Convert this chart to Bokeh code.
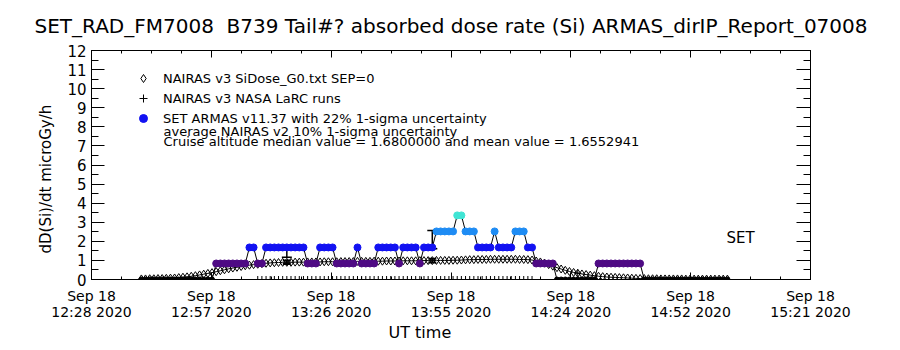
import numpy as np
from bokeh.plotting import figure
from bokeh.models import (ColumnDataSource, Range1d, FixedTicker, LinearAxis, Label,
                          Legend, LegendItem, Whisker, TeeHead, Title, CustomLabelingPolicy)
from bokeh.embed import file_html
from bokeh.resources import INLINE

FONT = "DejaVu Sans"

title_text = "SET_RAD_FM7008 \u00a0B739 Tail#? absorbed dose rate (Si) ARMAS_dirIP_Report_07008"
y_title = "dD(Si)/dt microGy/h"
x_title = "UT time"
x_tick_labels = ["Sep 18\n12:28 2020", "Sep 18\n12:57 2020", "Sep 18\n13:26 2020",
                 "Sep 18\n13:55 2020", "Sep 18\n14:24 2020", "Sep 18\n14:52 2020",
                 "Sep 18\n15:21 2020"]
x_span_minutes = 173          # 12:28 -> 15:21 UT
y_max = 12

# sample times: minutes after 12:28 UT (1-minute cadence)
minutes = list(range(12, 154))

# SET ARMAS absorbed dose rate (microGy/h)
armas = ([0.0] * 18 + [0.84] * 8 + [1.68] * 2 + [0.84] * 2 + [1.68] * 10 + [0.84] * 3 +
         [1.68] * 4 + [0.84] * 5 + [1.68] + [0.84] * 4 + [1.68] * 5 + [0.84] + [1.68] * 4 +
         [0.84] + [1.68] * 3 + [2.52] * 5 + [3.36] * 2 + [2.52] * 3 + [1.68] * 4 + [2.52] +
         [1.68] * 4 + [2.52] * 3 + [1.68] * 2 + [0.84] * 5 + [0.0] * 10 + [0.84] * 11 +
         [0.0] * 21)

# NAIRAS v3 SiDose (microGy/h)
nairas = [0.03, 0.03, 0.04, 0.04, 0.05, 0.05, 0.06, 0.07, 0.08,
          0.10, 0.12, 0.14, 0.17, 0.20, 0.24, 0.28, 0.32, 0.36,
          0.41, 0.46, 0.51, 0.56, 0.60, 0.64, 0.68, 0.72,
          0.75, 0.78, 0.80, 0.83, 0.85, 0.87, 0.88, 0.89,
          0.90, 0.90, 0.90, 0.91, 0.91, 0.91, 0.92, 0.92, 0.92, 0.92, 0.93, 0.93,
          0.93, 0.93, 0.94, 0.94, 0.94, 0.94, 0.95, 0.95, 0.95, 0.95, 0.96, 0.96,
          0.96, 0.97, 0.97, 0.97, 0.97, 0.98, 0.98, 0.98, 0.98, 0.99, 0.99, 0.99,
          0.99, 1.00, 1.00, 1.00, 1.00, 1.01, 1.01, 1.02,
          1.03, 1.04, 1.04, 1.05, 1.05, 1.05, 1.06, 1.06, 1.06, 1.06, 1.06, 1.06,
          1.06, 1.05, 1.05, 1.04, 1.02,
          0.97, 0.92, 0.86, 0.78, 0.70, 0.62, 0.55, 0.48, 0.42, 0.37, 0.33, 0.29,
          0.26, 0.23, 0.20,
          0.17, 0.15, 0.13, 0.12, 0.11, 0.10, 0.09, 0.08, 0.07, 0.06, 0.05,
          0.05, 0.04, 0.04, 0.04, 0.03, 0.03, 0.03, 0.03, 0.03, 0.03, 0.02, 0.02,
          0.02, 0.02, 0.02, 0.02, 0.02, 0.02, 0.02, 0.02, 0.02]

# NAIRAS v3 NASA LaRC runs (minutes after 12:28 UT, microGy/h); 0 = no run value
larc_minutes = list(range(40, 107)) + [117]
larc_values = [0.0] * 67 + [0.33]

# uncertainty bars (ARMAS 22 %, NAIRAS 10 %)
err_minutes = [47, 82]
armas_err_lo = [1.17, 1.61]
armas_err_hi = [1.69, 2.57]
nairas_err_lo = [0.81, 0.89]
nairas_err_hi = [0.99, 1.09]

level_colors = {0.0: "#000000", 0.84: "#4e0a84", 1.68: "#1212f2",
                2.52: "#1e8cf4", 3.36: "#40e4d4"}

legend_labels = ["NAIRAS v3 SiDose_G0.txt SEP=0", "NAIRAS v3 NASA LaRC runs",
                 "SET ARMAS v11.37 with 22% 1-sigma uncertainty"]
note1 = "average NAIRAS v2 10% 1-sigma uncertainty"
note2 = "Cruise altitude median value = 1.6800000 and mean value = 1.6552941"
set_label = "SET"

# ---------------------------------------------------------------------------
L, R, T, B = 91, 90, 50, 71
p = figure(width=900, height=350, output_backend="svg", toolbar_location=None,
           x_range=Range1d(0, x_span_minutes), y_range=Range1d(0, y_max),
           min_border_left=L, min_border_right=R, min_border_top=T, min_border_bottom=B,
           x_axis_location=None, y_axis_location=None, title=None)
p.grid.visible = False
p.outline_line_color = "black"
p.outline_line_width = 1
p.background_fill_color = "white"
p.border_fill_color = "white"

major_x = list(np.linspace(0, x_span_minutes, len(x_tick_labels)))
minor_x = list(np.linspace(0, x_span_minutes, 4 * (len(x_tick_labels) - 1) + 1))
yticks = list(range(0, y_max + 1))
yminor = list(np.arange(0, y_max + 0.01, 0.5))


def style_axis(ax, labels=True):
    ax.axis_line_color = "black"
    ax.major_tick_line_color = "black"
    ax.minor_tick_line_color = "black"
    ax.major_label_text_font = FONT
    ax.major_label_text_color = "black"
    if not labels:
        ax.major_label_policy = CustomLabelingPolicy(code="return []")
        ax.major_label_standoff = 0


xb = LinearAxis(ticker=FixedTicker(ticks=major_x, minor_ticks=minor_x))
xb.major_label_overrides = {float(t): lab for t, lab in zip(major_x, x_tick_labels)}
style_axis(xb)
xb.major_tick_in, xb.major_tick_out = 7, 0
xb.minor_tick_in, xb.minor_tick_out = 3, 0
xb.major_label_text_font_size = "14px"
xb.major_label_text_line_height = 1.0
xb.major_label_standoff = 8
p.add_layout(xb, "below")

xt = LinearAxis(ticker=FixedTicker(ticks=major_x, minor_ticks=minor_x))
style_axis(xt, labels=False)
xt.major_tick_in, xt.major_tick_out = 7, 0
xt.minor_tick_in, xt.minor_tick_out = 3, 0
p.add_layout(xt, "above")

yl = LinearAxis(ticker=FixedTicker(ticks=yticks, minor_ticks=yminor))
style_axis(yl)
yl.major_tick_in, yl.major_tick_out = 13, 0
yl.minor_tick_in, yl.minor_tick_out = 7, 0
yl.major_label_text_font_size = "15px"
yl.major_label_standoff = 5
p.add_layout(yl, "left")

yr = LinearAxis(ticker=FixedTicker(ticks=yticks, minor_ticks=yminor))
style_axis(yr, labels=False)
yr.major_tick_in, yr.major_tick_out = 14, 0
yr.minor_tick_in, yr.minor_tick_out = 7, 0
p.add_layout(yr, "right")

# titles
p.add_layout(Title(text=title_text, align="center", text_font=FONT, text_font_size="20px",
                   text_font_style="normal", text_color="black", standoff=4), "above")
p.add_layout(Title(text=x_title, align="left", offset=297, text_font=FONT,
                   text_font_size="16px", text_font_style="normal", text_color="black",
                   standoff=-3), "below")
p.add_layout(Title(text=y_title, align="left", offset=26, text_font=FONT,
                   text_font_size="15px", text_font_style="normal", text_color="black",
                   standoff=19), "left")

# --- data -----------------------------------------------------------------
nsrc = ColumnDataSource(dict(t=minutes, v=nairas))
p.line("t", "v", source=nsrc, line_color="black", line_width=1)
nr = p.scatter("t", "v", source=nsrc, marker="diamond", size=8,
               fill_color=None, line_color="black", line_width=1)

lsrc = ColumnDataSource(dict(t=larc_minutes, v=larc_values))
lr = p.scatter("t", "v", source=lsrc, marker="cross", size=7, line_color="black",
               line_width=1)

asrc = ColumnDataSource(dict(t=minutes, v=armas, c=[level_colors[v] for v in armas],
                             s=[5 if v == 0 else 7 for v in armas]))
p.line("t", "v", source=asrc, line_color="black", line_width=1)
ar = p.scatter("t", "v", source=asrc, marker="circle", size="s", fill_color="c",
               line_color="c")

esrc = ColumnDataSource(dict(t=err_minutes, alo=armas_err_lo, ahi=armas_err_hi,
                             nlo=nairas_err_lo, nhi=nairas_err_hi))
for lo, hi, w, lw in (("alo", "ahi", 10, 1.5), ("nlo", "nhi", 8, 2)):
    p.add_layout(Whisker(source=esrc, base="t", lower=lo, upper=hi, dimension="height",
                         line_color="black", line_width=lw,
                         lower_head=TeeHead(size=w, line_color="black", line_width=lw),
                         upper_head=TeeHead(size=w, line_color="black", line_width=lw)))

# --- legend ---------------------------------------------------------------
blue_index = armas.index(1.68)
legend = Legend(items=[LegendItem(label=legend_labels[0], renderers=[nr]),
                       LegendItem(label=legend_labels[1], renderers=[lr]),
                       LegendItem(label=legend_labels[2], renderers=[ar], index=blue_index)],
                location=(42, 151), border_line_color=None, background_fill_alpha=0,
                label_text_font=FONT, label_text_font_size="13px",
                label_text_color="black", glyph_width=20,
                glyph_height=20, label_height=20, spacing=0, padding=0, margin=0,
                label_standoff=10)
p.add_layout(legend, "center")

for txt, yy in ((note1, 148), (note2, 138)):
    p.add_layout(Label(x=72, y=yy, x_units="screen", y_units="screen", text=txt,
                       text_font=FONT, text_font_size="13px", text_baseline="middle",
                       text_color="black"))

p.add_layout(Label(x=649, y=42, x_units="screen", y_units="screen", text=set_label,
                   text_font=FONT, text_font_size="15px", text_align="center",
                   text_baseline="middle", text_color="black"))

open("out.html", "w").write(file_html(p, INLINE))
